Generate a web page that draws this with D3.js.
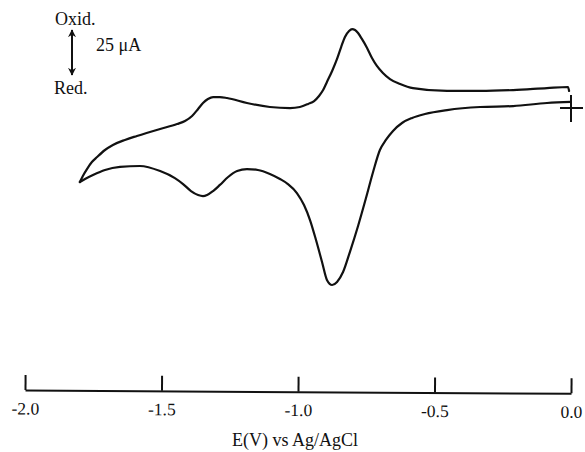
<!DOCTYPE html>
<html>
<head>
<meta charset="utf-8">
<script src="https://cdn.jsdelivr.net/npm/d3@7"></script>
<style>
  html, body { margin: 0; padding: 0; background: #fff; }
  svg { display: block; }
  text { font-family: "Liberation Serif", "DejaVu Serif", serif; fill: #111; }
</style>
</head>
<body>
<svg id="chart" width="585" height="452"></svg>
<script>
// Cyclic voltammogram, potential in V vs Ag/AgCl, current in µA (oxidation positive).
// Cathodic sweep: 0.0 V -> -1.80 V
const cathodicE = [0.000, -0.088, -0.212, -0.333, -0.454, -0.535, -0.582, -0.619, -0.652, -0.678,
  -0.700, -0.725, -0.751, -0.780, -0.810, -0.835, -0.857, -0.875, -0.894, -0.912,
  -0.934, -0.956, -0.978, -1.004, -1.037, -1.066, -1.103, -1.147, -1.187, -1.223,
  -1.256, -1.286, -1.311, -1.333, -1.348, -1.366, -1.392, -1.421, -1.451, -1.505,
  -1.579, -1.652, -1.707, -1.751, -1.780, -1.799];
const cathodicI = [1.7, 1.1, -0.6, -1.1, -2.8, -5.0, -7.2, -10.0, -14.4, -19.4,
  -25.0, -37.2, -51.7, -67.2, -81.7, -92.8, -98.3, -100.0, -97.2, -87.2,
  -75.0, -63.9, -55.6, -48.9, -43.9, -41.1, -38.3, -36.1, -35.6, -36.7,
  -40.0, -44.4, -47.8, -50.0, -50.6, -50.0, -47.8, -43.9, -40.6, -36.7,
  -33.9, -34.4, -36.1, -38.9, -41.1, -42.8];

// Anodic sweep: -1.80 V -> 0.0 V
const anodicE = [-1.799, -1.788, -1.773, -1.755, -1.736, -1.707, -1.678, -1.634, -1.590, -1.505,
  -1.443, -1.414, -1.388, -1.366, -1.348, -1.330, -1.311, -1.286, -1.260, -1.187,
  -1.103, -1.029, -0.993, -0.963, -0.941, -0.923, -0.908, -0.894, -0.875, -0.857,
  -0.842, -0.828, -0.813, -0.802, -0.791, -0.780, -0.766, -0.747, -0.729, -0.711,
  -0.689, -0.663, -0.626, -0.579, -0.454, -0.333, -0.212, -0.088, -0.011, -0.007];
const anodicI = [-42.8, -39.4, -35.6, -31.7, -28.9, -25.0, -22.2, -19.4, -17.2, -13.3,
  -10.6, -8.9, -6.1, -2.2, 1.1, 3.3, 4.4, 4.4, 3.9, 1.1,
  -1.1, -1.7, -1.1, 0.6, 2.2, 5.0, 8.3, 12.8, 18.9, 25.6,
  32.2, 37.8, 41.1, 42.2, 41.7, 40.0, 36.7, 31.7, 26.1, 21.7,
  17.8, 14.4, 11.7, 9.4, 7.8, 7.8, 8.3, 9.4, 10.0, 7.8];

// Starting point of the scan, marked with a cross
const startE = 0.0;
const startI = -1.7;

// Current scale bar
const scaleBarUA = 25;

const tickValues = [-2.0, -1.5, -1.0, -0.5, 0.0];
const tickLabels = ["-2.0", "-1.5", "-1.0", "-0.5", "0.0"];
const xTitle = "E(V) vs Ag/AgCl";

const svg = d3.select("#chart");

const x = d3.scaleLinear().domain([-2.0, 0.0]).range([25, 571]);
const y = d3.scaleLinear().domain([-100, 45]).range([285, 24]);

// Potential axis with upward ticks
const axisY = 390;
const axis = d3.axisBottom(x)
  .tickValues(tickValues)
  .tickFormat((d, i) => tickLabels[i])
  .tickSizeInner(-15)
  .tickSizeOuter(0)
  .tickPadding(12);

const gAxis = svg.append("g")
  .attr("transform", `translate(0,${axisY}) rotate(0.35, 25, 0)`)
  .call(axis);
gAxis.select(".domain").attr("stroke", "#111").attr("stroke-width", 2);
gAxis.selectAll(".tick line").attr("stroke", "#111").attr("stroke-width", 2);
gAxis.selectAll(".tick text")
  .attr("fill", "#111")
  .style("font-family", '"Liberation Serif", serif')
  .style("font-size", "17.5px");

svg.append("text")
  .attr("x", 295)
  .attr("y", 446)
  .attr("text-anchor", "middle")
  .style("font-size", "18px")
  .text(xTitle);

// Voltammogram trace: each sweep is monotone in potential
const sweep = (E, I) => E.map((e, i) => [e, I[i]]).sort((a, b) => a[0] - b[0]);

const line = d3.line()
  .x(d => x(d[0]))
  .y(d => y(d[1]))
  .curve(d3.curveMonotoneX);

svg.selectAll("path.trace")
  .data([sweep(cathodicE, cathodicI), sweep(anodicE, anodicI)])
  .join("path")
  .attr("class", "trace")
  .attr("d", line)
  .attr("fill", "none")
  .attr("stroke", "#111")
  .attr("stroke-width", 2.2)
  .attr("stroke-linejoin", "round")
  .attr("stroke-linecap", "round");

// Start marker
const cx = x(startE), cy = y(startI);
svg.append("path")
  .attr("d", `M${cx - 11},${cy}H${cx + 12}M${cx},${cy - 13}V${cy + 14}`)
  .attr("stroke", "#111")
  .attr("stroke-width", 2)
  .attr("fill", "none");

// Oxid./Red. current scale bar
const barX = 72;
const barLen = Math.abs(y(scaleBarUA) - y(0));
const barTop = 30, barBot = barTop + barLen;

const defs = svg.append("defs");
defs.append("marker")
  .attr("id", "head")
  .attr("viewBox", "0 0 10 10")
  .attr("refX", 9).attr("refY", 5)
  .attr("markerWidth", 4).attr("markerHeight", 5)
  .attr("markerUnits", "strokeWidth")
  .attr("orient", "auto-start-reverse")
  .append("path")
  .attr("d", "M0,0L10,5L0,10L3,5Z")
  .attr("fill", "#111");

svg.append("line")
  .attr("x1", barX).attr("x2", barX)
  .attr("y1", barTop).attr("y2", barBot)
  .attr("stroke", "#111")
  .attr("stroke-width", 2)
  .attr("marker-start", "url(#head)")
  .attr("marker-end", "url(#head)");

svg.append("text").attr("x", 55).attr("y", 25).style("font-size", "18px").text("Oxid.");
svg.append("text").attr("x", 96).attr("y", 51).style("font-size", "18px").text("25 μA");
svg.append("text").attr("x", 54).attr("y", 94).style("font-size", "18px").text("Red.");
</script>
</body>
</html>
